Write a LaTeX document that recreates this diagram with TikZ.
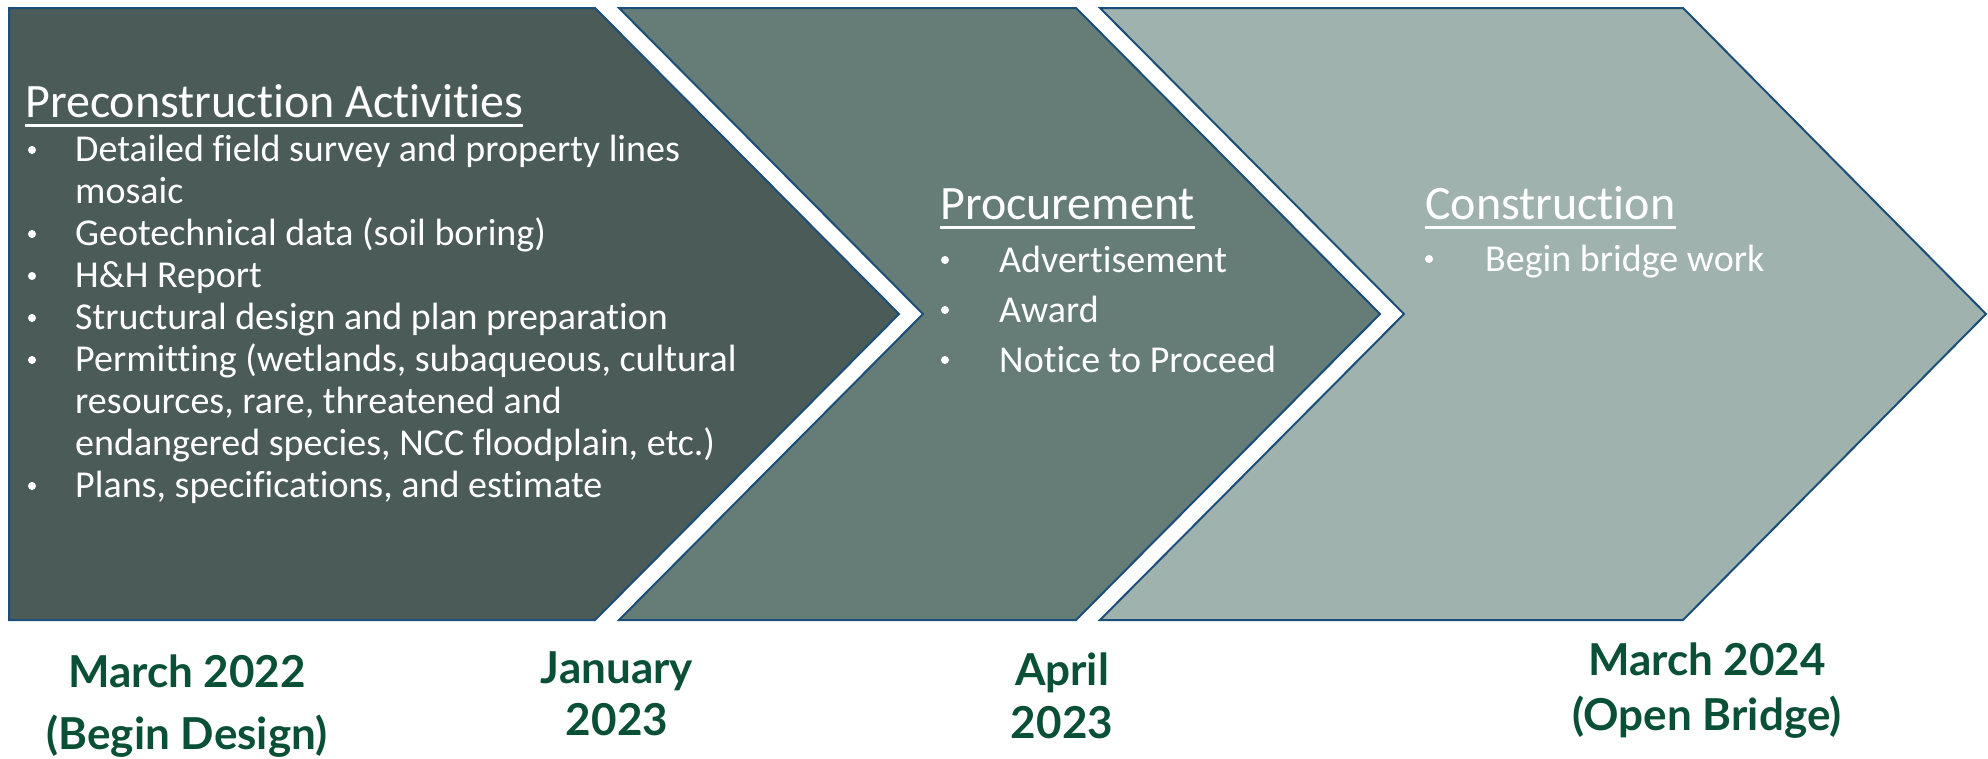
\documentclass[tikz,border=0pt]{standalone}
\usepackage{fontspec}
\setmainfont{Carlito}[Ligatures=NoCommon]
\newfontfamily\datefont{Lato}
\definecolor{cone}{HTML}{4B5B57}
\definecolor{ctwo}{HTML}{667D77}
\definecolor{cthree}{HTML}{A0B2AE}
\definecolor{cedge}{HTML}{1B4F7A}
\definecolor{cdate}{HTML}{0A5037}
\tikzset{
  chev/.style={draw=cedge, line width=2pt, line join=miter},
  ttl/.style={text=white, inner sep=0pt, anchor=base west, font=\fontsize{48}{57}\selectfont},
  ul/.style={draw=white, line width=2.2pt},
  bodytxt/.style={text=white, inner sep=0pt, anchor=base west, font=\fontsize{38}{45}\selectfont},
  bdot/.style={circle, fill=white, inner sep=0pt, minimum size=8pt},
  datelbl/.style={text=cdate, inner sep=0pt, anchor=base, font=\datefont\bfseries\fontsize{44}{52}\selectfont}
}
\begin{document}
\begin{tikzpicture}[x=1pt,y=-1pt]
\useasboundingbox (0,0) rectangle (1988,758);
\fill[white] (0,0) rectangle (1988,758);
% chevrons
\draw[chev, fill=cone] (9,8) -- (595,8) -- (899,314) -- (595,620) -- (9,620) -- cycle;
\draw[chev, fill=ctwo] (619,8) -- (1076,8) -- (1380,314) -- (1076,620) -- (619,620) -- (923,314) -- cycle;
\draw[chev, fill=cthree] (1100,8) -- (1683,8) -- (1986,314) -- (1683,620) -- (1100,620) -- (1404,314) -- cycle;
% shape 1 text
\node[ttl] (t1) at (25,117) {Preconstruction Activities};
\draw[ul] ([yshift=-8.5pt]t1.base west) -- ([yshift=-8.5pt]t1.base east);
\node[bdot] (b1) at (32,150) {};
\node[bodytxt] (a1) at (75,161) {Detailed field survey and property lines};
\node[bodytxt] (a2) at (75,203) {mosaic};
\node[bdot] (b2) at (32,234) {};
\node[bodytxt] (a3) at (75,245) {Geotechnical data (soil boring)};
\node[bdot] (b3) at (32,276) {};
\node[bodytxt] (a4) at (75,287) {H\&H Report};
\node[bdot] (b4) at (32,318) {};
\node[bodytxt] (a5) at (75,329) {Structural design and plan preparation};
\node[bdot] (b5) at (32,360) {};
\node[bodytxt] (a6) at (75,371) {Permitting (wetlands, subaqueous, cultural};
\node[bodytxt] (a7) at (75,413) {resources, rare, threatened and};
\node[bodytxt] (a8) at (75,455) {endangered species, NCC floodplain, etc.)};
\node[bdot] (b6) at (32,486) {};
\node[bodytxt] (a9) at (75,497) {Plans, specifications, and estimate};
% shape 2 text
\node[ttl] (t2) at (940,219) {Procurement};
\draw[ul] ([yshift=-8.5pt]t2.base west) -- ([yshift=-8.5pt]t2.base east);
\node[bdot] (p1b) at (945,260) {};
\node[bodytxt] (p1) at (999,272) {Advertisement};
\node[bdot] (p2b) at (945,310) {};
\node[bodytxt] (p2) at (999,322) {Award};
\node[bdot] (p3b) at (945,360) {};
\node[bodytxt] (p3) at (999,372) {Notice to Proceed};
% shape 3 text
\node[ttl] (t3) at (1425,219) {Construction};
\draw[ul] ([yshift=-8.5pt]t3.base west) -- ([yshift=-8.5pt]t3.base east);
\node[bdot] (c1b) at (1429,259) {};
\node[bodytxt] (c1) at (1485,271) {Begin bridge work};
% dates
\node[datelbl] (d1a) at (187,687) {March 2022};
\node[datelbl] (d1b) at (187,749) {(Begin Design)};
\node[datelbl] (d2a) at (617,683) {January};
\node[datelbl] (d2b) at (617,735) {2023};
\node[datelbl] (d3a) at (1062,685) {April};
\node[datelbl] (d3b) at (1062,738) {2023};
\node[datelbl] (d4a) at (1707,675) {March 2024};
\node[datelbl] (d4b) at (1707,730) {(Open Bridge)};
\end{tikzpicture}
\end{document}
